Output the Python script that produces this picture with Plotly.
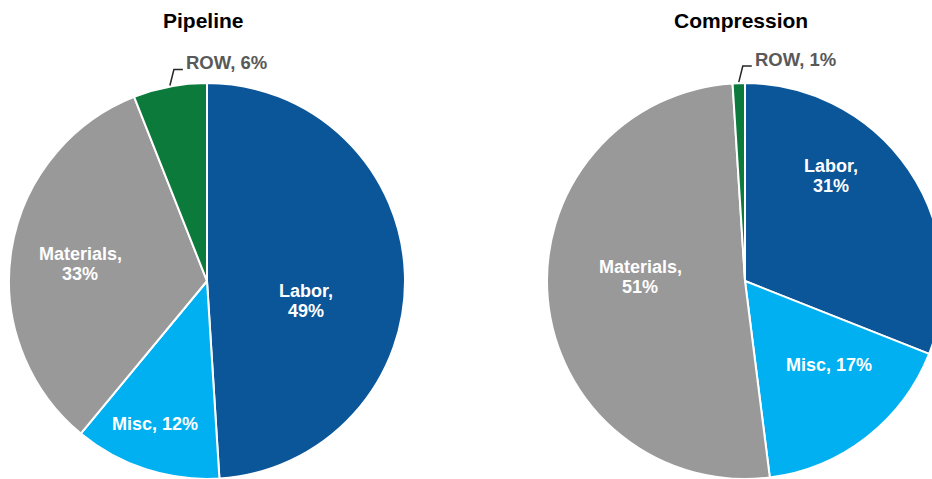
import math
import plotly.graph_objects as go

# Cost breakdown for the two project types
categories = ["Labor", "Misc", "Materials", "ROW"]
pipeline_pct = [49, 12, 33, 6]
compression_pct = [31, 17, 51, 1]
titles = ["Pipeline", "Compression"]

colors = ["#0B5599", "#00B0F0", "#999999", "#0B7A3A"]
wrapped = {"Labor", "Materials"}  # labels set on two lines
outside = "ROW"                   # label drawn outside with a leader line

# canvas and pie geometry (pixels)
W, H = 946, 479
R = 198
centers = [(207, 281), (745, 281)]

# inside-label placement: (angle nudge from slice middle in degrees, radius fraction)
label_place = [
    {"Labor": (13, 0.51), "Misc": (2, 0.77), "Materials": (-1.5, 0.645)},
    {"Labor": (-16.5, 0.685), "Misc": (-7.5, 0.60), "Materials": (7.5, 0.53)},
]

FONT = "Liberation Sans, Arial, sans-serif"
LABEL_SIZE = 18
LINE_GAP = 20


def fx(p):
    return p / W


def fy(p):
    return 1 - p / H


fig = go.Figure()
shapes, annotations = [], []

for (cx, cy), title, values, place in zip(
        centers, titles, [pipeline_pct, compression_pct], label_place):
    fig.add_trace(go.Pie(
        labels=categories,
        values=values,
        textinfo="none",
        marker=dict(colors=colors, line=dict(color="white", width=2)),
        sort=False,
        direction="clockwise",
        rotation=0,
        showlegend=False,
        hoverinfo="label+percent",
        domain=dict(x=[(cx - R) / W, (cx + R) / W], y=[0, 2 * R / H]),
    ))

    # title above each pie
    annotations.append(dict(
        text=f"<b>{title}</b>", x=fx(cx - 4), y=fy(20), xref="paper", yref="paper",
        showarrow=False, xanchor="center", yanchor="middle",
        font=dict(family=FONT, size=21, color="black"),
    ))

    total = sum(values)
    cum = 0
    for cat, v in zip(categories, values):
        mid = (cum + v / 2) / total * 360
        cum += v
        if cat == outside:
            # elbow leader from the slice edge up to the label
            a = math.radians(mid)
            px0 = cx + R * math.sin(a)
            py0 = cy - R * math.cos(a) - 1
            px1, py1 = px0 + 4, py0 - 16
            px2 = px1 + 9
            shapes.append(dict(
                type="path", xref="paper", yref="paper",
                path=f"M {fx(px0)},{fy(py0)} L {fx(px1)},{fy(py1)} L {fx(px2)},{fy(py1)}",
                line=dict(color="#262626", width=1.5),
            ))
            annotations.append(dict(
                text=f"<b>{cat}, {v}%</b>", x=fx(px2 + 1), y=fy(py1 - 7),
                xref="paper", yref="paper", showarrow=False,
                xanchor="left", yanchor="middle",
                font=dict(family=FONT, size=18.5, color="#595959"),
            ))
            continue

        nudge, frac = place[cat]
        a = math.radians(mid + nudge)
        lx = cx + frac * R * math.sin(a)
        ly = cy - frac * R * math.cos(a)
        lines = [f"{cat},", f"{v}%"] if cat in wrapped else [f"{cat}, {v}%"]
        top = ly - LINE_GAP * (len(lines) - 1) / 2
        for i, line in enumerate(lines):
            annotations.append(dict(
                text=f"<b>{line}</b>", x=fx(lx), y=fy(top + i * LINE_GAP),
                xref="paper", yref="paper", showarrow=False,
                xanchor="center", yanchor="middle",
                font=dict(family=FONT, size=LABEL_SIZE, color="white"),
            ))

fig.update_layout(
    width=W, height=H,
    margin=dict(l=0, r=0, t=0, b=0),
    paper_bgcolor="white",
    plot_bgcolor="white",
    shapes=shapes,
    annotations=annotations,
)

fig.write_html("out.html", post_script="document.body.style.overflow='hidden';")
